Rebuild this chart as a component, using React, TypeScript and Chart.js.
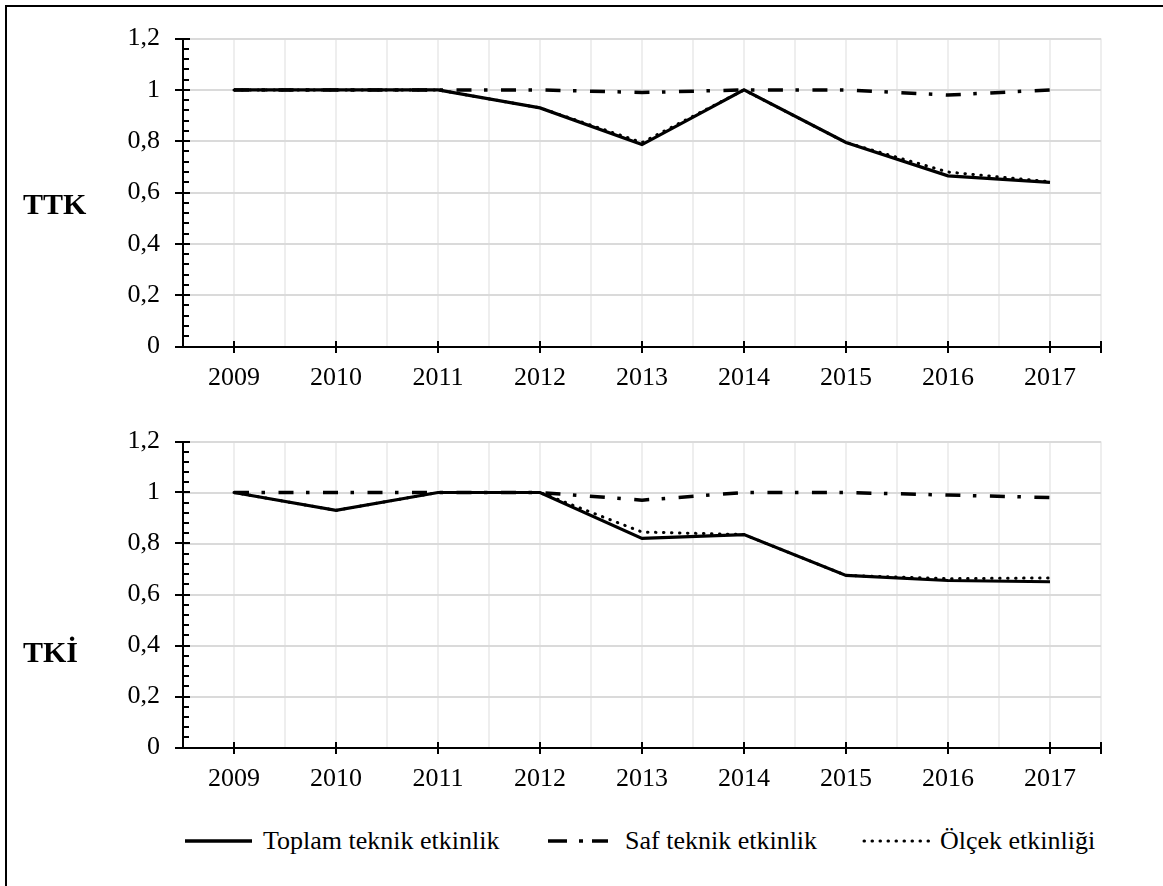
import React, { useEffect, useRef } from "react";
import { Chart, registerables } from "chart.js";

Chart.register(...registerables);

// ---------- data ----------
const years = [2009, 2010, 2011, 2012, 2013, 2014, 2015, 2016, 2017];
const seriesNames = ["Toplam teknik etkinlik", "Saf teknik etkinlik", "Ölçek etkinliği"];

const ttkToplam = [1, 1, 1, 0.93, 0.787, 1, 0.795, 0.665, 0.64];
const ttkSaf = [1, 1, 1, 1, 0.99, 1, 1, 0.98, 1];
const ttkOlcek = [1, 1, 1, 0.93, 0.795, 1, 0.795, 0.68, 0.642];

const tkiToplam = [1, 0.93, 1, 1, 0.82, 0.835, 0.675, 0.655, 0.65];
const tkiSaf = [1, 1, 1, 1, 0.97, 1, 1, 0.99, 0.98];
const tkiOlcek = [1, 0.93, 1, 1, 0.845, 0.835, 0.675, 0.662, 0.665];

const yMin = 0;
const yMax = 1.2;
const yStep = 0.2;
const yMinorStep = 0.04;

const panelLabels = ["TTK", "TKİ"];

// ---------- styles ----------
const FONT = "Liberation Serif, DejaVu Serif, serif";
const lineStyles = [
  { width: 3.2, dash: [] as number[], cap: "butt" },
  { width: 3.5, dash: [15, 12.5, 3.5, 13.5], cap: "butt" },
  { width: 3, dash: [0.5, 7.5], cap: "round" },
];

function fmtY(v: number) {
  const r = Math.round(v * 10) / 10;
  return String(r).replace(".", ",");
}

const axisMarks = {
  id: "axisMarks",
  afterDraw(chart: any) {
    const xs = chart.scales.x;
    const ys = chart.scales.y;
    const ctx = chart.ctx;
    ctx.save();
    ctx.strokeStyle = "#000";
    ctx.lineWidth = 2;
    ctx.beginPath();
    const nMinor = Math.round((yMax - yMin) / yMinorStep);
    const perMajor = Math.round(yStep / yMinorStep);
    const ax = Math.round(xs.left);
    for (let i = 0; i <= nMinor; i++) {
      const py = Math.round(ys.getPixelForValue(yMin + i * yMinorStep));
      if (i % perMajor === 0) {
        ctx.moveTo(ax - 8, py);
        ctx.lineTo(ax + 7, py);
      } else {
        ctx.moveTo(ax, py);
        ctx.lineTo(ax + 6, py);
      }
    }
    const by = Math.round(ys.bottom);
    const xTickVals = [...years, years[years.length - 1] + 0.5];
    for (const v of xTickVals) {
      const px = Math.round(xs.getPixelForValue(v));
      ctx.moveTo(px, by - 6);
      ctx.lineTo(px, by + 6);
    }
    ctx.stroke();
    ctx.restore();
  },
};

function Panel(props: {
  top: number;
  padTop: number;
  xHeight: number;
  toplam: number[];
  saf: number[];
  olcek: number[];
}) {
  const ref = useRef<HTMLCanvasElement | null>(null);
  useEffect(() => {
    if (!ref.current) return;
    const series = [props.toplam, props.saf, props.olcek];
    const gridVals: number[] = [];
    years.forEach((y) => {
      gridVals.push(y - 0.5);
      gridVals.push(y);
    });
    gridVals.push(years[years.length - 1] + 0.5);
    const chart = new Chart(ref.current, {
      type: "line",
      data: {
        datasets: series.map((vals, i) => ({
          label: seriesNames[i],
          data: years.map((y, j) => ({ x: y, y: vals[j] })),
          borderColor: "#000",
          backgroundColor: "#000",
          borderWidth: lineStyles[i].width,
          borderDash: lineStyles[i].dash,
          borderCapStyle: lineStyles[i].cap as any,
          borderJoinStyle: "miter",
          pointRadius: 0,
          tension: 0,
          fill: false,
        })),
      },
      options: {
        responsive: false,
        maintainAspectRatio: false,
        animation: false,
        layout: { padding: { left: 0, right: 62, top: props.padTop, bottom: 0 } },
        plugins: { legend: { display: false }, tooltip: { enabled: false } },
        scales: {
          x: {
            type: "linear",
            min: years[0] - 0.5,
            max: years[years.length - 1] + 0.5,
            afterBuildTicks: (s: any) => {
              s.ticks = gridVals.map((v) => ({ value: v }));
            },
            afterFit: (s: any) => {
              s.height = props.xHeight;
            },
            ticks: {
              autoSkip: false,
              maxRotation: 0,
              color: "#000",
              font: { family: FONT, size: 26 },
              padding: 16,
              callback: (v: any) => (Number.isInteger(v) ? String(v) : ""),
            },
            grid: { color: "#eeeeee", lineWidth: 2, drawTicks: false },
            border: { display: true, color: "#000", width: 2 },
          },
          y: {
            min: yMin,
            max: yMax,
            afterFit: (s: any) => {
              s.width = 183;
            },
            ticks: {
              stepSize: yStep,
              color: "#000",
              font: { family: FONT, size: 26 },
              padding: 23,
              callback: (v: any) => fmtY(Number(v)),
            },
            grid: { color: "#dadada", lineWidth: 2, drawTicks: false },
            border: { display: true, color: "#000", width: 2 },
          },
        },
      },
      plugins: [axisMarks],
    });
    return () => chart.destroy();
  }, []);
  return (
    <canvas
      ref={ref}
      width={1163}
      height={400}
      style={{ position: "absolute", left: 0, top: props.top, width: 1163, height: 400, display: "block" }}
    />
  );
}

const textStyle: React.CSSProperties = {
  position: "absolute",
  fontFamily: FONT,
  fontSize: 26,
  lineHeight: "30px",
  color: "#000",
  whiteSpace: "nowrap",
};

export default function App() {
  return (
    <div style={{ position: "absolute", left: 0, top: 0, width: 1163, height: 886, background: "#fff", overflow: "hidden" }}>
      <div
        style={{
          position: "absolute",
          left: 5,
          top: 5,
          width: 1300,
          height: 1000,
          borderTop: "2px solid #000",
          borderLeft: "2px solid #000",
        }}
      />
      <Panel top={0} padTop={33.5} xHeight={53.5} toplam={ttkToplam} saf={ttkSaf} olcek={ttkOlcek} />
      <Panel top={400} padTop={41.5} xHeight={52.5} toplam={tkiToplam} saf={tkiSaf} olcek={tkiOlcek} />
      <div style={{ ...textStyle, left: 23, top: 189, fontSize: 30, fontWeight: "bold" }}>{panelLabels[0]}</div>
      <div style={{ ...textStyle, left: 23, top: 637, fontSize: 30, fontWeight: "bold" }}>{panelLabels[1]}</div>

      {/* legend */}
      <svg style={{ position: "absolute", left: 0, top: 824 }} width={1163} height={36}>
        <line x1={185} y1={17} x2={252} y2={17} stroke="#000" strokeWidth={3.5} />
        <line x1={548} y1={17} x2={567} y2={17} stroke="#000" strokeWidth={3.5} />
        <line x1={579} y1={17} x2={583} y2={17} stroke="#000" strokeWidth={3.5} />
        <line x1={592} y1={17} x2={608} y2={17} stroke="#000" strokeWidth={3.5} />
        <line
          x1={864}
          y1={17}
          x2={934}
          y2={17}
          stroke="#000"
          strokeWidth={3}
          strokeDasharray="0.5 7.5"
          strokeLinecap="round"
        />
      </svg>
      <div style={{ ...textStyle, left: 263, top: 826 }}>{seriesNames[0]}</div>
      <div style={{ ...textStyle, left: 625, top: 826 }}>{seriesNames[1]}</div>
      <div style={{ ...textStyle, left: 940, top: 826 }}>{seriesNames[2]}</div>
    </div>
  );
}
